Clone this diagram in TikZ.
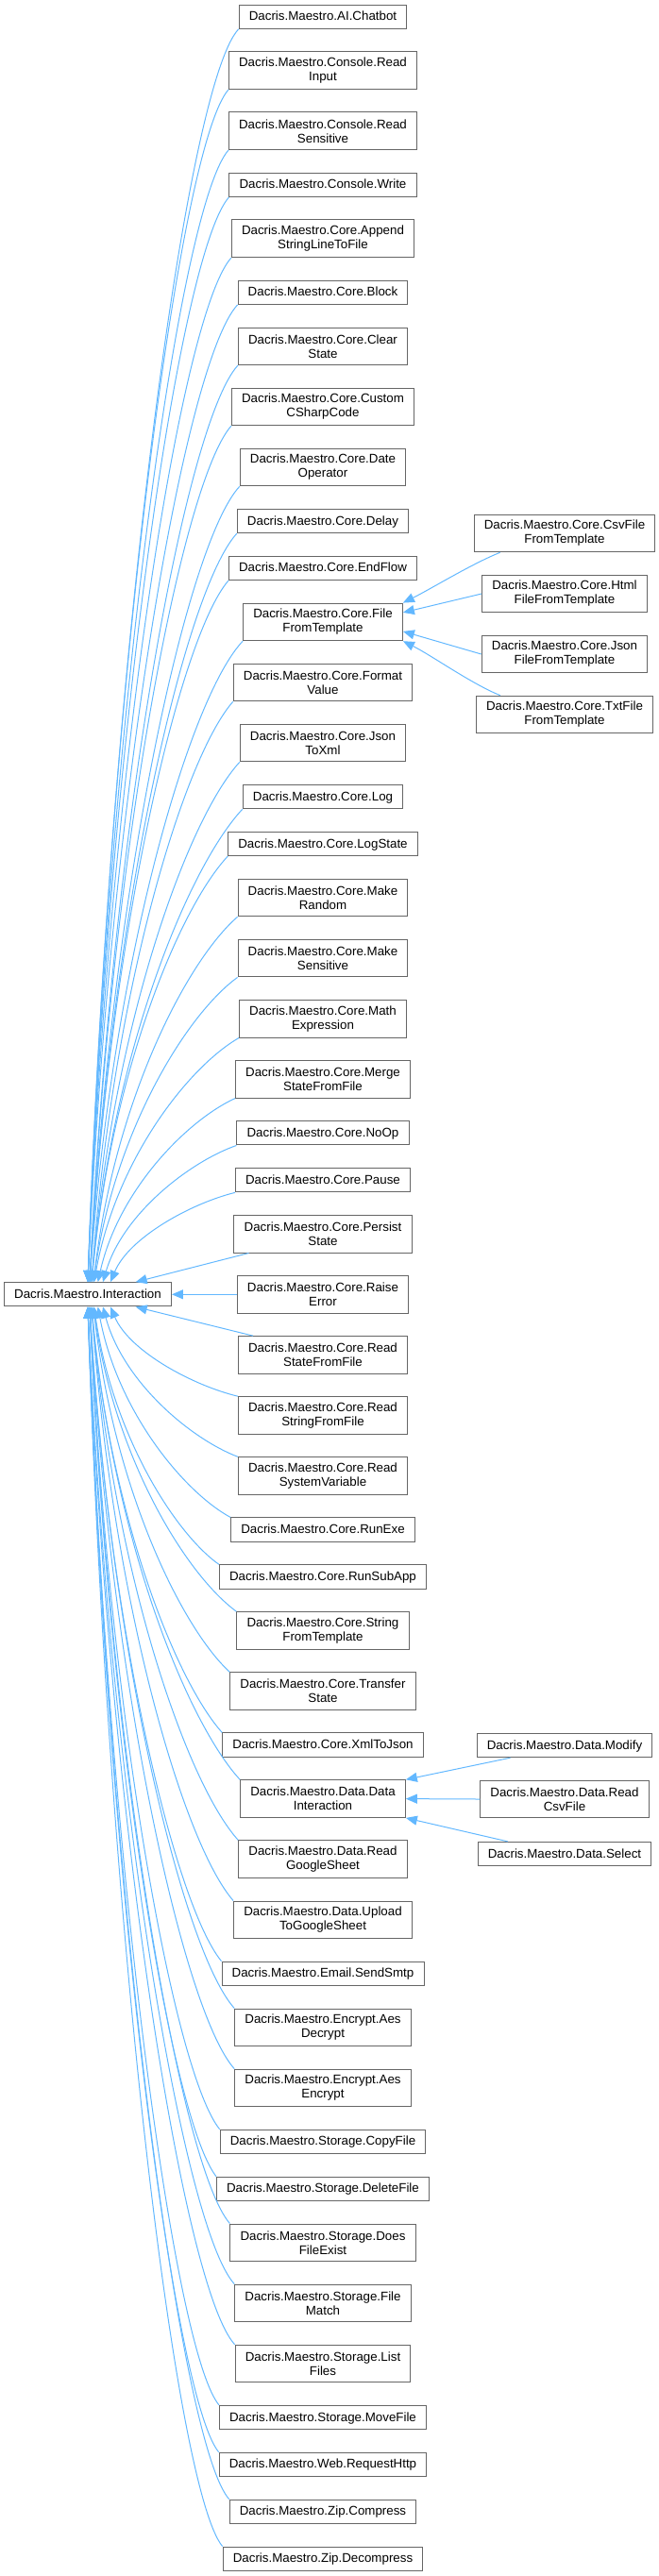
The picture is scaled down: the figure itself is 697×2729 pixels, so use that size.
\documentclass[tikz,border=0pt]{standalone}
\usepackage{fontspec}
\setmainfont{Liberation Sans}
\usetikzlibrary{arrows.meta}
\usetikzlibrary{calc}

\definecolor{edgeblue}{HTML}{63B8FF}
\definecolor{nodegray}{HTML}{666666}

\tikzset{
  cls/.style={draw=nodegray, fill=white, line width=0.75pt, inner xsep=8pt, inner ysep=0pt,
    minimum height=19pt, text height=7.5pt, text depth=1.5pt, font=\fontsize{10}{11.25}\selectfont},
  cls2/.style={draw=nodegray, fill=white, line width=0.75pt, inner xsep=8pt, inner ysep=0pt,
    minimum height=29.7pt, align=center, font=\fontsize{10}{11.25}\selectfont},
  inh/.style={draw=edgeblue, line width=0.75pt, {Triangle[length=9pt, width=7.5pt]}-}
}

% curved inheritance edge: #1 = point on the base class, #2 = point on the derived class
\newcommand{\inh}[2]{%
  \draw[inh] let \p1=(#1), \p2=(#2), \n1={min(0.12,45/max(abs(\y1-\y2),1))} in
    (\p1) .. controls ({\x1+0.15*(\x2-\x1)}, {0.5*(\y1+\y2)})
      and ({\x2-0.35*(\x2-\x1)}, {\y2+\n1*(\y1-\y2)}) .. (\p2);}

\begin{document}
\begin{tikzpicture}[x=0.75pt, y=-0.75pt]
  \useasboundingbox (0,0) rectangle (697,2729);

  \node[cls] (root) at (93,1371.3) {Dacris.Maestro.Interaction};

  \node[cls] (chatbot) at (342,17.7) {Dacris.Maestro.AI.Chatbot};
  \node[cls2] (readinput) at (342,74.7) {Dacris.Maestro.Console.Read\\Input};
  \node[cls2] (readsens) at (342,138.8) {Dacris.Maestro.Console.Read\\Sensitive};
  \node[cls] (write) at (342,195.8) {Dacris.Maestro.Console.Write};
  \node[cls2] (append) at (342,252.8) {Dacris.Maestro.Core.Append\\StringLineToFile};
  \node[cls] (block) at (342,309.8) {Dacris.Maestro.Core.Block};
  \node[cls2] (clear) at (342,366.8) {Dacris.Maestro.Core.Clear\\State};
  \node[cls2] (custom) at (342,430.9) {Dacris.Maestro.Core.Custom\\CSharpCode};
  \node[cls2] (date) at (342,495.0) {Dacris.Maestro.Core.Date\\Operator};
  \node[cls] (delay) at (342,552.0) {Dacris.Maestro.Core.Delay};
  \node[cls] (endflow) at (342,601.9) {Dacris.Maestro.Core.EndFlow};
  \node[cls2] (file) at (342,658.9) {Dacris.Maestro.Core.File\\FromTemplate};
  \node[cls2] (format) at (342,723.0) {Dacris.Maestro.Core.Format\\Value};
  \node[cls2] (jsontoxml) at (342,787.1) {Dacris.Maestro.Core.Json\\ToXml};
  \node[cls] (log) at (342,844.1) {Dacris.Maestro.Core.Log};
  \node[cls] (logstate) at (342,894.0) {Dacris.Maestro.Core.LogState};
  \node[cls2] (mkrandom) at (342,951.0) {Dacris.Maestro.Core.Make\\Random};
  \node[cls2] (mksens) at (342,1015.1) {Dacris.Maestro.Core.Make\\Sensitive};
  \node[cls2] (math) at (342,1079.2) {Dacris.Maestro.Core.Math\\Expression};
  \node[cls2] (merge) at (342,1143.3) {Dacris.Maestro.Core.Merge\\StateFromFile};
  \node[cls] (noop) at (342,1200.3) {Dacris.Maestro.Core.NoOp};
  \node[cls] (pause) at (342,1250.2) {Dacris.Maestro.Core.Pause};
  \node[cls2] (persist) at (342,1307.2) {Dacris.Maestro.Core.Persist\\State};
  \node[cls2] (raise) at (342,1371.3) {Dacris.Maestro.Core.Raise\\Error};
  \node[cls2] (readstate) at (342,1435.4) {Dacris.Maestro.Core.Read\\StateFromFile};
  \node[cls2] (readstring) at (342,1499.5) {Dacris.Maestro.Core.Read\\StringFromFile};
  \node[cls2] (readsys) at (342,1563.6) {Dacris.Maestro.Core.Read\\SystemVariable};
  \node[cls] (runexe) at (342,1620.6) {Dacris.Maestro.Core.RunExe};
  \node[cls] (runsubapp) at (342,1670.5) {Dacris.Maestro.Core.RunSubApp};
  \node[cls2] (strtpl) at (342,1727.5) {Dacris.Maestro.Core.String\\FromTemplate};
  \node[cls2] (transfer) at (342,1791.6) {Dacris.Maestro.Core.Transfer\\State};
  \node[cls] (xmltojson) at (342,1848.6) {Dacris.Maestro.Core.XmlToJson};
  \node[cls2] (datainter) at (342,1905.6) {Dacris.Maestro.Data.Data\\Interaction};
  \node[cls2] (readgs) at (342,1969.7) {Dacris.Maestro.Data.Read\\GoogleSheet};
  \node[cls2] (upload) at (342,2033.8) {Dacris.Maestro.Data.Upload\\ToGoogleSheet};
  \node[cls] (sendsmtp) at (342,2090.8) {Dacris.Maestro.Email.SendSmtp};
  \node[cls2] (aesdec) at (342,2147.8) {Dacris.Maestro.Encrypt.Aes\\Decrypt};
  \node[cls2] (aesenc) at (342,2211.9) {Dacris.Maestro.Encrypt.Aes\\Encrypt};
  \node[cls] (copyfile) at (342,2268.9) {Dacris.Maestro.Storage.CopyFile};
  \node[cls] (delfile) at (342,2318.8) {Dacris.Maestro.Storage.DeleteFile};
  \node[cls2] (exists) at (342,2375.8) {Dacris.Maestro.Storage.Does\\FileExist};
  \node[cls2] (filematch) at (342,2439.9) {Dacris.Maestro.Storage.File\\Match};
  \node[cls2] (listfiles) at (342,2504.0) {Dacris.Maestro.Storage.List\\Files};
  \node[cls] (movefile) at (342,2561.0) {Dacris.Maestro.Storage.MoveFile};
  \node[cls] (reqhttp) at (342,2610.9) {Dacris.Maestro.Web.RequestHttp};
  \node[cls] (zip) at (342,2660.8) {Dacris.Maestro.Zip.Compress};
  \node[cls] (unzip) at (342,2710.7) {Dacris.Maestro.Zip.Decompress};

  \node[cls2] (csvtpl) at (598,565) {Dacris.Maestro.Core.CsvFile\\FromTemplate};
  \node[cls2] (htmltpl) at (598,629) {Dacris.Maestro.Core.Html\\FileFromTemplate};
  \node[cls2] (jsontpl) at (598,693) {Dacris.Maestro.Core.Json\\FileFromTemplate};
  \node[cls2] (txttpl) at (598,757) {Dacris.Maestro.Core.TxtFile\\FromTemplate};
  \node[cls] (modify) at (598,1849) {Dacris.Maestro.Data.Modify};
  \node[cls2] (readcsv) at (598,1906) {Dacris.Maestro.Data.Read\\CsvFile};
  \node[cls] (select) at (598,1964) {Dacris.Maestro.Data.Select};

  % derived classes above the base class
  \inh{[xshift=0pt]root.north}{chatbot.south west}
  \inh{[xshift=0pt]root.north}{readinput.south west}
  \inh{[xshift=0pt]root.north}{readsens.south west}
  \inh{[xshift=0pt]root.north}{write.south west}
  \inh{[xshift=0pt]root.north}{append.south west}
  \inh{[xshift=0pt]root.north}{block.south west}
  \inh{[xshift=1.5pt]root.north}{clear.south west}
  \inh{[xshift=1.5pt]root.north}{custom.south west}
  \inh{[xshift=1.5pt]root.north}{date.south west}
  \inh{[xshift=1.5pt]root.north}{delay.south west}
  \inh{[xshift=1.5pt]root.north}{endflow.south west}
  \inh{[xshift=1.5pt]root.north}{file.south west}
  \inh{[xshift=3pt]root.north}{format.south west}
  \inh{[xshift=3pt]root.north}{jsontoxml.south west}
  \inh{[xshift=3pt]root.north}{log.south west}
  \inh{[xshift=3pt]root.north}{logstate.south west}
  \inh{[xshift=4.5pt]root.north}{mkrandom.south west}
  \inh{[xshift=4.5pt]root.north}{mksens.south west}
  \inh{[xshift=5pt]root.north}{math.south west}
  \inh{[xshift=8pt]root.north}{merge.south west}
  \inh{[xshift=12pt]root.north}{noop.south west}
  \inh{[xshift=18pt]root.north}{pause.south west}
  \draw[inh] ([xshift=38pt]root.north) -- ([xshift=12pt]persist.south west);
  \draw[inh] (root.east) -- (raise.west);
  % derived classes below the base class
  \draw[inh] ([xshift=38pt]root.south) -- ([xshift=12pt]readstate.north west);
  \inh{[xshift=18pt]root.south}{readstring.north west}
  \inh{[xshift=12pt]root.south}{readsys.north west}
  \inh{[xshift=8pt]root.south}{runexe.north west}
  \inh{[xshift=5pt]root.south}{runsubapp.north west}
  \inh{[xshift=4.5pt]root.south}{strtpl.north west}
  \inh{[xshift=4.5pt]root.south}{transfer.north west}
  \inh{[xshift=3pt]root.south}{xmltojson.north west}
  \inh{[xshift=3pt]root.south}{datainter.north west}
  \inh{[xshift=3pt]root.south}{readgs.north west}
  \inh{[xshift=3pt]root.south}{upload.north west}
  \inh{[xshift=1.5pt]root.south}{sendsmtp.north west}
  \inh{[xshift=1.5pt]root.south}{aesdec.north west}
  \inh{[xshift=1.5pt]root.south}{aesenc.north west}
  \inh{[xshift=1.5pt]root.south}{copyfile.north west}
  \inh{[xshift=1.5pt]root.south}{delfile.north west}
  \inh{[xshift=1.5pt]root.south}{exists.north west}
  \inh{[xshift=0pt]root.south}{filematch.north west}
  \inh{[xshift=0pt]root.south}{listfiles.north west}
  \inh{[xshift=0pt]root.south}{movefile.north west}
  \inh{[xshift=0pt]root.south}{reqhttp.north west}
  \inh{[xshift=0pt]root.south}{zip.north west}
  \inh{[xshift=0pt]root.south}{unzip.north west}

  % second level
  \draw[inh] (file.north east) .. controls +(30,-15) and +(-30,12) .. ([xshift=21pt]csvtpl.south west);
  \draw[inh] ([yshift=7.5pt]file.east) -- (htmltpl.west);
  \draw[inh] ([yshift=-7.5pt]file.east) -- (jsontpl.west);
  \draw[inh] (file.south east) .. controls +(30,15) and +(-30,-12) .. ([xshift=19.5pt]txttpl.north west);
  \draw[inh] (datainter.north east) -- ([xshift=27pt]modify.south west);
  \draw[inh] (datainter.east) -- (readcsv.west);
  \draw[inh] (datainter.south east) -- ([xshift=24pt]select.north west);
\end{tikzpicture}
\end{document}
